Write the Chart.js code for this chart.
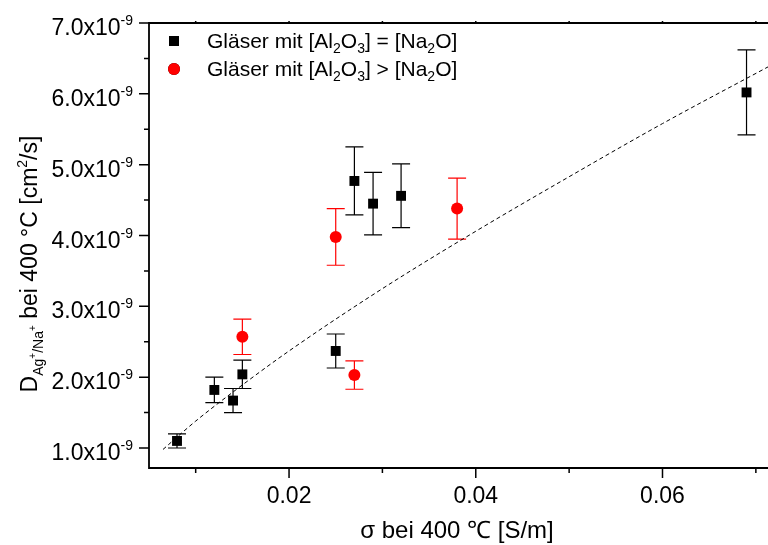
<!DOCTYPE html>
<html>
<head>
<meta charset="utf-8">
<script src="https://cdn.jsdelivr.net/npm/chart.js@4.4.1/dist/chart.umd.min.js"></script>
<style>
  html, body { margin: 0; padding: 0; background: #fff; }
  #wrap { width: 768px; height: 545px; }
</style>
</head>
<body>
<div id="wrap"><canvas id="c" width="768" height="545"></canvas></div>
<script>
// Conductivity sigma at 400 °C [S/m]; diffusion coefficients in units of 1e-9 cm²/s
const glassEqX   = [0.008, 0.012, 0.014, 0.015, 0.025, 0.027, 0.029, 0.032, 0.069];
const glassEqD   = [1.10, 1.82, 1.67, 2.04, 2.37, 4.77, 4.45, 4.56, 6.02];
const glassEqErr = [0.10, 0.18, 0.17, 0.20, 0.24, 0.48, 0.44, 0.45, 0.60];

const glassGtX   = [0.015, 0.025, 0.027, 0.038];
const glassGtD   = [2.57, 3.98, 2.03, 4.38];
const glassGtErr = [0.25, 0.40, 0.20, 0.43];

// Trend curve through the data
const trendX = [0.0065, 0.010, 0.015, 0.020, 0.030, 0.040, 0.050, 0.060, 0.0713];
const trendD = [0.98, 1.38, 1.89, 2.37, 3.25, 4.06, 4.83, 5.58, 6.38];

// Axis ticks
const xMajorTicks = [0.02, 0.04, 0.06];
const xMinorTicks = [0.01, 0.03, 0.05, 0.07];
const xTickLabels = ['0.02', '0.04', '0.06'];
const yMajorTicks = [1, 2, 3, 4, 5, 6, 7];
const yMinorTicks = [1.5, 2.5, 3.5, 4.5, 5.5, 6.5];
const yTickLabels = ['1.0x10', '2.0x10', '3.0x10', '4.0x10', '5.0x10', '6.0x10', '7.0x10'];
const yTickExp = '-9';

const FAMILY = '"Liberation Sans", Arial, Helvetica, sans-serif';
const f = px => px + 'px ' + FAMILY;

function toPts(xs, ys) { return xs.map((x, i) => ({ x: x, y: ys[i] })); }

function drawRich(ctx, parts, x, y) {
  for (const p of parts) {
    ctx.font = f(p.size);
    ctx.fillText(p.t, x, y + (p.dy || 0));
    x += ctx.measureText(p.t).width;
  }
  return x;
}
function richWidth(ctx, parts) {
  let w = 0;
  for (const p of parts) { ctx.font = f(p.size); w += ctx.measureText(p.t).width; }
  return w;
}

// Vertical error bars, drawn beneath the markers
const errorBars = {
  id: 'errorBars',
  beforeDatasetsDraw(chart) {
    const { ctx, scales: { x, y } } = chart;
    const sets = [
      { xs: glassEqX, ys: glassEqD, es: glassEqErr, color: '#000' },
      { xs: glassGtX, ys: glassGtD, es: glassGtErr, color: '#ff0000' }
    ];
    ctx.save();
    ctx.lineWidth = 1.2;
    for (const s of sets) {
      ctx.strokeStyle = s.color;
      s.xs.forEach((xv, i) => {
        const px = x.getPixelForValue(xv);
        const top = y.getPixelForValue(s.ys[i] + s.es[i]);
        const bot = y.getPixelForValue(s.ys[i] - s.es[i]);
        ctx.beginPath();
        ctx.moveTo(px, top); ctx.lineTo(px, bot);
        ctx.moveTo(px - 9, top); ctx.lineTo(px + 9, top);
        ctx.moveTo(px - 9, bot); ctx.lineTo(px + 9, bot);
        ctx.stroke();
      });
    }
    ctx.restore();
  }
};

// Frame, ticks, tick labels, axis titles and legend
const frame = {
  id: 'frame',
  afterDraw(chart) {
    const { ctx, chartArea: a, scales: { x, y } } = chart;
    const W = chart.width;
    ctx.save();
    ctx.strokeStyle = '#000';
    ctx.fillStyle = '#000';
    ctx.lineWidth = 1.8;
    ctx.beginPath();
    ctx.moveTo(W, a.top); ctx.lineTo(a.left, a.top);
    ctx.lineTo(a.left, a.bottom); ctx.lineTo(W, a.bottom);
    ctx.stroke();

    ctx.lineWidth = 1.5;
    ctx.beginPath();
    xMajorTicks.forEach(v => { const p = x.getPixelForValue(v); ctx.moveTo(p, a.bottom); ctx.lineTo(p, a.bottom + 10); });
    xMinorTicks.forEach(v => { const p = x.getPixelForValue(v); ctx.moveTo(p, a.bottom); ctx.lineTo(p, a.bottom + 5); });
    yMajorTicks.forEach(v => { const p = y.getPixelForValue(v); ctx.moveTo(a.left, p); ctx.lineTo(a.left - 10, p); });
    yMinorTicks.forEach(v => { const p = y.getPixelForValue(v); ctx.moveTo(a.left, p); ctx.lineTo(a.left - 5, p); });
    [0.01, 0.02, 0.03, 0.04, 0.05, 0.06, 0.07].forEach(v => { const p = x.getPixelForValue(v); ctx.moveTo(p, a.top); ctx.lineTo(p, a.top - 2); });
    ctx.stroke();

    // x tick labels
    ctx.textAlign = 'center';
    ctx.textBaseline = 'alphabetic';
    ctx.font = f(23);
    xMajorTicks.forEach((v, i) => ctx.fillText(xTickLabels[i], x.getPixelForValue(v), a.bottom + 35));

    // y tick labels with exponent
    ctx.textAlign = 'left';
    yMajorTicks.forEach((v, i) => {
      const parts = [{ t: yTickLabels[i], size: 23 }, { t: yTickExp, size: 14, dy: -10 }];
      const w = richWidth(ctx, parts);
      drawRich(ctx, parts, a.left - 16 - w, y.getPixelForValue(v) + 12);
    });

    // x axis title
    ctx.font = f(24);
    ctx.textAlign = 'center';
    ctx.fillText('σ bei 400 ℃ [S/m]', 457, 538);

    // y axis title (rotated)
    ctx.textAlign = 'left';
    const yTitle = [
      { t: 'D', size: 23 },
      { t: 'Ag', size: 14, dy: 6 }, { t: '+', size: 10, dy: -1 },
      { t: '/Na', size: 14, dy: 6 }, { t: '+', size: 10, dy: -1 },
      { t: ' bei 400 °C [cm', size: 23 },
      { t: '2', size: 14, dy: -10 },
      { t: '/s]', size: 23 }
    ];
    const tw = richWidth(ctx, yTitle);
    ctx.save();
    ctx.translate(37, 264);
    ctx.rotate(-Math.PI / 2);
    drawRich(ctx, yTitle, -tw / 2, 0);
    ctx.restore();

    // legend
    const sub = t => ({ t: t, size: 14, dy: 5 });
    const n = t => ({ t: t, size: 21 });
    const rows = [
      { ds: 0, parts: [n('Gläser mit [Al'), sub('2'), n('O'), sub('3'), n('] = [Na'), sub('2'), n('O]')] },
      { ds: 1, parts: [n('Gläser mit [Al'), sub('2'), n('O'), sub('3'), n('] > [Na'), sub('2'), n('O]')] }
    ];
    rows.forEach((r, i) => {
      const cy = 41 + i * 28;
      const ds = chart.data.datasets[r.ds];
      Chart.helpers.drawPoint(ctx, {
        pointStyle: ds.pointStyle, radius: ds.pointRadius, rotation: 0,
        borderWidth: 0
      }, 174, cy);
      ctx.fillStyle = ds.backgroundColor;
      ctx.fill();
      ctx.fillStyle = '#000';
      drawRich(ctx, r.parts, 207, cy + 7);
    });
    ctx.restore();
  }
};

new Chart(document.getElementById('c'), {
  type: 'scatter',
  data: {
    datasets: [
      {
        label: 'Gläser mit [Al2O3] = [Na2O]',
        data: toPts(glassEqX, glassEqD),
        pointStyle: 'rect', pointRadius: 7, pointHoverRadius: 7,
        backgroundColor: '#000', borderColor: '#000', borderWidth: 0,
        order: 1
      },
      {
        label: 'Gläser mit [Al2O3] > [Na2O]',
        data: toPts(glassGtX, glassGtD),
        pointStyle: 'circle', pointRadius: 6, pointHoverRadius: 6,
        backgroundColor: '#ff0000', borderColor: '#ff0000', borderWidth: 0,
        order: 1
      },
      {
        type: 'line',
        label: 'Trend',
        data: toPts(trendX, trendD),
        showLine: true, pointRadius: 0,
        borderColor: '#000', borderWidth: 1, borderDash: [4, 3],
        cubicInterpolationMode: 'monotone', fill: false,
        order: 2
      }
    ]
  },
  options: {
    responsive: false,
    animation: false,
    devicePixelRatio: 1,
    layout: { autoPadding: false, padding: { left: 149, top: 23, right: 0, bottom: 77 } },
    plugins: { legend: { display: false }, tooltip: { enabled: false } },
    scales: {
      x: { type: 'linear', min: 0.005, max: 0.0713, display: false },
      y: { type: 'linear', min: 0.718, max: 7.0, display: false }
    }
  },
  plugins: [errorBars, frame]
});
</script>
</body>
</html>
